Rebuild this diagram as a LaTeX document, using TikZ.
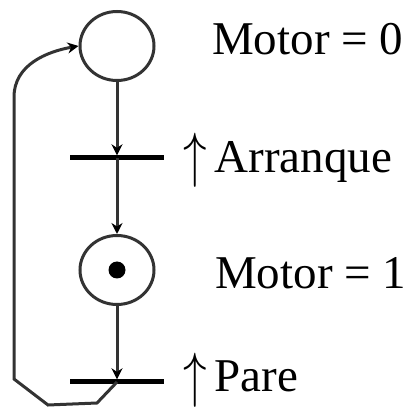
\RequirePackage{fix-cm}
\documentclass[tikz,border=0pt]{standalone}
\usepackage{fontspec}
\setmainfont{Liberation Serif}
\usepackage{graphicx}
\usepackage{tikz}
\usetikzlibrary{shapes,arrows.meta,positioning,calc}

\newcommand{\uparr}{\raisebox{-3pt}{\scalebox{1}[1.3]{$\uparrow$}}\kern8pt}

\begin{document}
\begin{tikzpicture}[
    x=1pt, y=1pt,
    node distance=112pt,
    place/.style={ellipse, draw=black!80, line width=3pt, minimum width=74pt, minimum height=69pt, inner sep=0pt},
    trans/.style={rectangle, fill=black, minimum width=94pt, minimum height=5pt, inner sep=0pt},
    token/.style={circle, fill=black, minimum size=17pt, inner sep=0pt},
    arc/.style={-{Stealth[length=11pt, width=11pt, black]}, draw=black!80, line width=3pt},
    txt/.style={anchor=base west, inner sep=0pt, font=\fontsize{47}{56}\selectfont}
]
\useasboundingbox (0,0) rectangle (407,407);

\node[place] (p0) at (117,361) {};
\node[trans, below of=p0] (t0) {};
\node[place, below of=t0] (p1) {};
\node[token] (tok) at (p1) {};
\node[trans, below of=p1] (t1) {};

\draw[arc] (p0.south) -- (t0.north);
\draw[arc] (t0.center) -- (p1.north);
\draw[arc] (p1.south) -- (t1.north);
\draw[arc] (t1.center) -- ++(-20,-21) -- ++(-49,-2) -- ++(-34,26) -- ++(0,282) to[out=90, in=190] (p0.west);

\node[txt] (m0) at ($(p0)+(95,-9)$) {Motor = 0};
\node[txt] (e0) at ($(t0)+(66,-15)$) {\uparr Arranque};
\node[txt] (m1) at ($(p1)+(98,-19)$) {Motor = 1};
\node[txt] (e1) at ($(t1)+(66,-10)$) {\uparr Pare};

\end{tikzpicture}
\end{document}
